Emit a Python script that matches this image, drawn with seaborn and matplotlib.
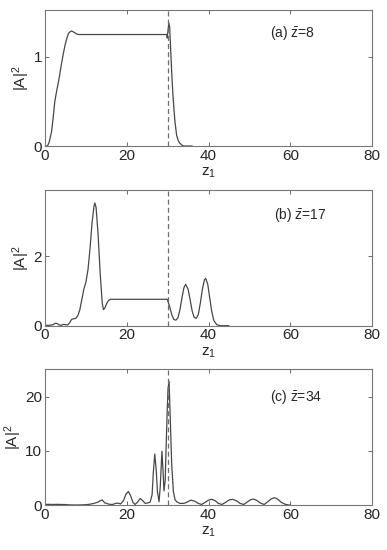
import matplotlib
matplotlib.use("Agg")
import matplotlib.pyplot as plt
import seaborn as sns


# =====================================
# DATA
# =====================================

z_a = [0, 0.6, 1.0, 1.6, 2.0, 2.4, 2.9, 3.3, 3.7, 4.1, 4.5, 4.9, 5.3,
       5.7, 6.1, 6.5, 6.9, 7.3, 7.8, 8.2, 10, 15, 20, 25, 29.8,
       29.9, 30.1, 30.3, 30.5, 30.8, 31.0, 31.3, 31.6, 31.8, 32.2,
       32.6, 33.0, 33.5, 33.9, 35, 36]
amp_a = [0.0, 0.0, 0.04, 0.16, 0.32, 0.5, 0.63, 0.72, 0.83, 0.94, 1.04,
         1.13, 1.2, 1.26, 1.28, 1.29, 1.28, 1.27, 1.255, 1.25, 1.25,
         1.25, 1.25, 1.25, 1.25, 1.21, 1.3, 1.38, 1.33, 1.02, 0.82,
         0.57, 0.38, 0.27, 0.12, 0.06, 0.03, 0.01, 0.0, 0.0, 0.0]

z_b = [0, 1, 2, 2.5, 3, 3.5, 4, 4.5, 5, 5.5, 6, 6.5, 7, 7.5, 8, 8.5, 9,
       9.5, 10, 10.5, 11, 11.5, 12, 12.2, 12.5, 13, 13.5, 14, 14.3,
       14.7, 15, 15.5, 16, 17, 20, 25, 29.9, 30.5, 31, 31.5, 32, 32.5,
       33, 33.5, 34, 34.4, 35, 35.5, 36, 36.5, 37, 37.5, 38, 38.5, 39,
       39.3, 39.8, 40.3, 40.8, 41.3, 42, 43, 45]
amp_b = [0.01, 0.01, 0.03, 0.07, 0.06, 0.02, 0.01, 0.04, 0.03, 0.02,
         0.08, 0.18, 0.2, 0.21, 0.28, 0.45, 0.75, 1.05, 1.25, 1.6, 2.2,
         2.95, 3.45, 3.53, 3.4, 2.6, 1.5, 0.65, 0.46, 0.52, 0.62, 0.72,
         0.76, 0.76, 0.76, 0.76, 0.76, 0.55, 0.32, 0.18, 0.16, 0.22,
         0.45, 0.8, 1.1, 1.19, 1.05, 0.75, 0.42, 0.24, 0.21, 0.32, 0.65,
         1.05, 1.32, 1.36, 1.2, 0.8, 0.4, 0.15, 0.03, 0.0, 0.0]

z_c = [0, 1, 2, 3, 4, 5, 6, 8, 10, 11, 12, 13, 13.5, 14, 14.6, 15.1,
       15.6, 16.5, 17.3, 17.9, 18.5, 19.2, 19.8, 20.4, 21.0, 21.5,
       22.0, 22.6, 23.3, 23.9, 24.5, 25.2, 25.7, 26.2, 26.5, 26.85,
       27.2, 27.5, 27.9, 28.2, 28.6, 28.9, 29.1, 29.4, 29.6, 29.9,
       30.1, 30.35, 30.6, 31.0, 31.4, 31.8, 32.2, 33.0, 34.0, 34.8,
       35.7, 36.6, 37.5, 38.3, 39.2, 40.0, 40.8, 41.6, 42.4, 43.3,
       44.2, 45.1, 45.9, 46.8, 47.7, 48.6, 49.4, 50.2, 51.0, 51.8,
       52.7, 53.6, 54.4, 55.3, 56.1, 56.9, 57.8, 58.7, 59.6, 60]
amp_c = [0.1, 0.12, 0.1, 0.12, 0.1, 0.08, 0.02, 0.0, 0.05, 0.15, 0.3,
         0.55, 0.8, 0.93, 0.4, 0.3, 0.15, 0.1, 0.3, 0.35, 0.2, 0.8,
         2.0, 2.5, 1.6, 0.5, 0.1, 0.5, 1.2, 0.8, 0.3, 0.4, 0.5, 1.9,
         6.0, 9.4, 6.5, 2.5, 0.6, 3.5, 9.9, 6.0, 2.6, 4.5, 10.0, 17.5,
         21.5, 22.8, 17.0, 7.4, 2.5, 1.0, 0.6, 0.3, 0.3, 0.55, 0.9, 0.7,
         0.3, 0.1, 0.5, 0.9, 1.05, 0.8, 0.3, 0.1, 0.5, 0.95, 1.05, 0.8,
         0.3, 0.1, 0.5, 0.95, 1.1, 0.85, 0.35, 0.1, 0.55, 1.1, 1.36, 1.1,
         0.5, 0.15, 0.0, 0.0]

panels = [
    (z_a, amp_a, 1.52, [0, 1], "a", "8"),
    (z_b, amp_b, 3.9, [0, 2], "b", "17"),
    (z_c, amp_c, 25, [0, 10, 20], "c", "34"),
]

label_pos = [(55, 1.27), (56, 3.18), (55, 20.0)]

boundary = 30


# =====================================
# STYLE
# =====================================

sns.set_style("ticks")

plt.rcParams["font.family"] = ["Liberation Sans", "DejaVu Sans"]
plt.rcParams["mathtext.fontset"] = "custom"
plt.rcParams["mathtext.rm"] = "Liberation Sans"
plt.rcParams["mathtext.it"] = "Liberation Sans"
plt.rcParams["font.size"] = 10


# =====================================
# FIGURE
# =====================================

fig = plt.figure(figsize=(3.87, 5.5), dpi=100)

bottoms = [0.7345, 0.4078, 0.0818]

for i, (z, amp, ytop, yticks, tag, zbar) in enumerate(panels):

    ax = fig.add_axes([0.1163, bottoms[i], 0.845, 0.2465])

    sns.lineplot(
        x=z,
        y=amp,
        ax=ax,
        color="#474747",
        linewidth=0.9,
        estimator=None,
        sort=False
    )

    ax.axvline(
        boundary,
        color="#6e6e6e",
        linestyle=(0, (4, 2.5)),
        linewidth=0.9
    )

    ax.set_xlim(0, 80)
    ax.set_ylim(0, ytop)
    ax.set_xticks([0, 20, 40, 60, 80])
    ax.set_yticks(yticks)

    ax.tick_params(
        direction="in",
        top=True,
        right=True,
        length=3,
        width=0.6,
        color="#555555",
        labelsize=11,
        pad=2
    )

    for spine in ax.spines.values():
        spine.set_color("#777777")
        spine.set_linewidth(0.8)

    ax.set_xlabel(r"z$_1$", fontsize=11, labelpad=2)
    ax.set_ylabel(r"|A|$^2$", fontsize=11, labelpad=1)

    tx, ty = label_pos[i]
    ax.text(
        tx,
        ty,
        "(" + tag + r") $\bar{\mathrm{z}}$=" + zbar,
        fontsize=10,
        va="center",
        ha="left"
    )

fig.savefig("out.png", dpi=100)
plt.close()
